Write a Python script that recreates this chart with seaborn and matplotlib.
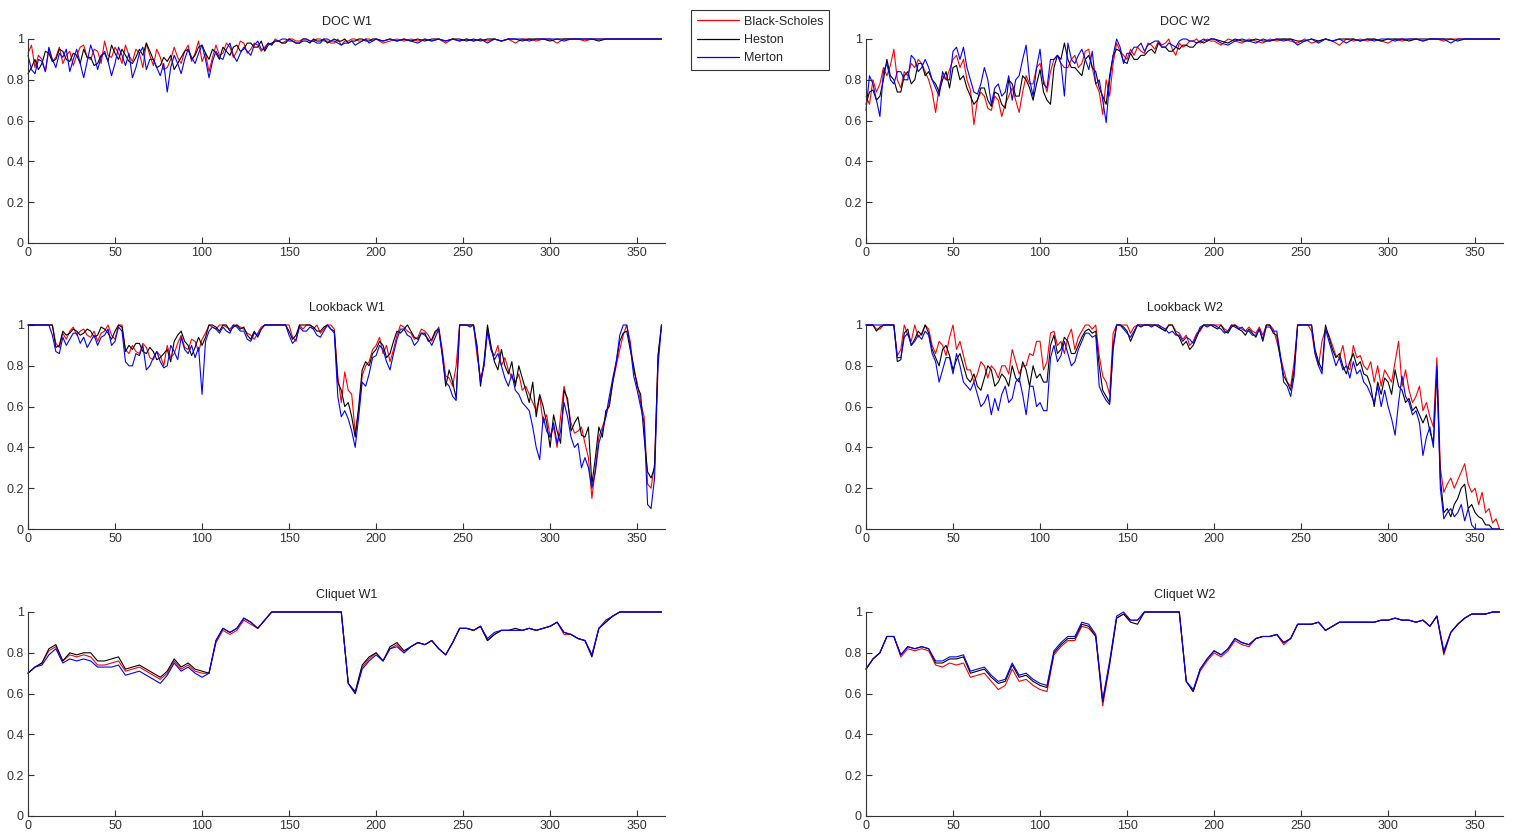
import numpy as np
import pandas as pd
import matplotlib
matplotlib.use("Agg")
import matplotlib.pyplot as plt
import seaborn as sns
from matplotlib.lines import Line2D
from matplotlib.ticker import FuncFormatter

# ---------------- data ----------------
days = list(range(0, 365, 4))                                   # 0 .. 364
doc_days = list(range(0, 200, 2)) + list(range(200, 365, 4))    # finer where noisy
lookback_days = list(range(0, 365, 2))                          # 0 .. 364

models = ["Black-Scholes", "Heston", "Merton"]
model_colors = ["#ff0000", "#000000", "#0000ff"]

doc_w1_bs = [
    0.93, 0.97, 0.86, 0.92, 0.90, 0.84, 0.95, 0.89, 0.91, 0.96,
    0.88, 0.92, 0.94, 0.87, 0.92, 0.96, 0.97, 0.91, 0.90, 0.95,
    0.94, 0.88, 0.99, 0.92, 0.91, 0.96, 0.93, 0.88, 0.97, 0.92,
    0.89, 0.95, 0.93, 0.86, 0.98, 0.92, 0.87, 0.95, 0.91, 0.85,
    0.86, 0.90, 0.96, 0.91, 0.88, 0.94, 0.97, 0.89, 0.93, 0.99,
    0.89, 0.93, 0.84, 0.91, 0.97, 0.92, 0.93, 0.98, 0.96, 0.91,
    0.94, 0.99, 0.98, 0.93, 0.95, 0.98, 0.97, 0.94, 0.96, 0.98,
    0.97, 1.00, 0.99, 0.98, 0.99, 1.00, 1.00, 0.99, 0.99, 1.00,
    1.00, 0.99, 0.99, 1.00, 1.00, 0.99, 0.99, 0.98, 0.98, 1.00,
    0.97, 0.99, 0.99, 1.00, 1.00, 0.99, 0.99, 1.00, 1.00, 0.99,
    1.00, 0.98, 0.99, 1.00, 0.99, 1.00, 0.99, 1.00, 0.99, 1.00,
    0.98, 1.00, 0.99, 1.00, 0.99, 1.00, 0.99, 1.00, 0.99, 1.00,
    0.98, 1.00, 1.00, 0.99, 1.00, 1.00, 0.98, 1.00, 1.00, 1.00,
    0.99, 1.00, 1.00, 1.00, 1.00, 1.00, 1.00, 1.00, 1.00, 1.00,
    1.00, 1.00]
doc_w1_heston = [
    0.83, 0.86, 0.90, 0.85, 0.88, 0.94, 0.93, 0.89, 0.90, 0.95,
    0.94, 0.90, 0.89, 0.93, 0.92, 0.88, 0.95, 0.91, 0.91, 0.87,
    0.88, 0.92, 0.93, 0.89, 0.97, 0.93, 0.90, 0.95, 0.92, 0.89,
    0.88, 0.91, 0.95, 0.92, 0.98, 0.94, 0.90, 0.86, 0.87, 0.91,
    0.89, 0.92, 0.85, 0.88, 0.91, 0.94, 0.95, 0.90, 0.92, 0.96,
    0.97, 0.93, 0.90, 0.95, 0.93, 0.90, 0.96, 0.94, 0.92, 0.96,
    0.97, 0.94, 0.95, 0.98, 0.98, 0.96, 0.96, 0.99, 0.94, 0.97,
    0.98, 0.99, 0.99, 0.98, 0.98, 1.00, 0.99, 0.98, 0.98, 0.99,
    0.99, 0.98, 1.00, 0.99, 0.99, 1.00, 0.98, 0.99, 1.00, 0.99,
    0.99, 1.00, 0.98, 0.99, 0.99, 1.00, 1.00, 0.99, 0.99, 1.00,
    1.00, 0.99, 1.00, 0.99, 1.00, 0.99, 1.00, 0.99, 1.00, 1.00,
    0.99, 1.00, 1.00, 0.99, 1.00, 0.99, 1.00, 1.00, 0.99, 1.00,
    1.00, 0.99, 1.00, 1.00, 1.00, 0.99, 1.00, 1.00, 1.00, 1.00,
    1.00, 1.00, 0.99, 1.00, 1.00, 1.00, 1.00, 1.00, 1.00, 1.00,
    1.00, 1.00]
doc_w1_merton = [
    0.92, 0.85, 0.83, 0.90, 0.89, 0.84, 0.96, 0.90, 0.86, 0.93,
    0.91, 0.95, 0.84, 0.90, 0.95, 0.88, 0.81, 0.89, 0.97, 0.92,
    0.85, 0.91, 0.94, 0.89, 0.82, 0.88, 0.96, 0.92, 0.87, 0.93,
    0.81, 0.86, 0.93, 0.96, 0.85, 0.90, 0.90, 0.86, 0.82, 0.88,
    0.74, 0.86, 0.92, 0.88, 0.83, 0.90, 0.95, 0.91, 0.88, 0.93,
    0.97, 0.90, 0.81, 0.89, 0.94, 0.91, 0.90, 0.95, 0.98, 0.92,
    0.89, 0.93, 0.96, 0.94, 0.92, 0.97, 0.99, 0.95, 0.95, 0.98,
    0.97, 0.99, 0.99, 1.00, 1.00, 0.99, 0.99, 0.98, 0.98, 1.00,
    1.00, 0.99, 0.99, 0.98, 0.98, 1.00, 1.00, 0.99, 0.99, 0.98,
    0.97, 0.98, 0.98, 0.99, 0.97, 0.98, 0.99, 1.00, 0.98, 0.99,
    1.00, 0.99, 1.00, 0.99, 1.00, 0.99, 0.98, 1.00, 0.99, 1.00,
    0.99, 1.00, 0.99, 1.00, 0.99, 1.00, 0.98, 1.00, 0.99, 1.00,
    1.00, 1.00, 0.99, 1.00, 1.00, 1.00, 1.00, 0.99, 1.00, 1.00,
    1.00, 1.00, 1.00, 1.00, 1.00, 1.00, 1.00, 1.00, 1.00, 1.00,
    1.00, 1.00]

doc_w2_bs = [
    0.72, 0.68, 0.80, 0.74, 0.78, 0.86, 0.82, 0.87, 0.95, 0.80,
    0.76, 0.84, 0.82, 0.88, 0.86, 0.90, 0.88, 0.84, 0.80, 0.74,
    0.64, 0.76, 0.82, 0.80, 0.85, 0.90, 0.92, 0.86, 0.90, 0.80,
    0.75, 0.58, 0.70, 0.74, 0.72, 0.66, 0.65, 0.72, 0.70, 0.62,
    0.68, 0.72, 0.76, 0.70, 0.64, 0.74, 0.82, 0.78, 0.78, 0.86,
    0.88, 0.80, 0.74, 0.84, 0.90, 0.92, 0.88, 0.86, 0.86, 0.90,
    0.92, 0.86, 0.88, 0.94, 0.95, 0.86, 0.78, 0.74, 0.63, 0.80,
    0.72, 0.88, 0.98, 0.94, 0.92, 0.90, 0.95, 0.92, 0.96, 0.94,
    0.93, 0.98, 0.97, 0.95, 0.99, 0.97, 0.98, 1.00, 0.95, 0.92,
    0.98, 0.96, 0.97, 0.99, 0.99, 1.00, 0.98, 0.99, 1.00, 0.99,
    0.99, 0.97, 1.00, 0.99, 0.98, 1.00, 0.99, 0.98, 1.00, 0.99,
    1.00, 0.99, 0.98, 1.00, 0.98, 0.99, 1.00, 0.99, 0.97, 1.00,
    0.99, 1.00, 0.99, 1.00, 0.99, 0.98, 1.00, 0.99, 1.00, 1.00,
    0.99, 1.00, 1.00, 0.99, 1.00, 1.00, 1.00, 1.00, 1.00, 1.00,
    1.00, 1.00]
doc_w2_heston = [
    0.68, 0.74, 0.75, 0.70, 0.72, 0.80, 0.90, 0.82, 0.80, 0.74,
    0.74, 0.82, 0.84, 0.78, 0.80, 0.88, 0.88, 0.82, 0.84, 0.80,
    0.78, 0.74, 0.80, 0.84, 0.76, 0.86, 0.87, 0.80, 0.82, 0.76,
    0.72, 0.68, 0.70, 0.76, 0.76, 0.70, 0.67, 0.74, 0.73, 0.68,
    0.66, 0.80, 0.78, 0.72, 0.72, 0.82, 0.80, 0.76, 0.70, 0.78,
    0.85, 0.74, 0.70, 0.68, 0.86, 0.92, 0.90, 0.98, 0.90, 0.86,
    0.86, 0.84, 0.82, 0.90, 0.92, 0.86, 0.84, 0.76, 0.72, 0.68,
    0.82, 0.92, 0.95, 0.94, 0.89, 0.88, 0.93, 0.90, 0.90, 0.92,
    0.92, 0.94, 0.95, 0.93, 0.98, 0.96, 0.96, 0.94, 0.94, 0.96,
    0.95, 0.97, 0.97, 0.96, 0.96, 0.98, 0.99, 0.98, 0.99, 1.00,
    1.00, 0.99, 0.98, 1.00, 0.99, 0.99, 1.00, 0.99, 0.99, 1.00,
    1.00, 1.00, 0.99, 0.99, 1.00, 0.99, 1.00, 0.99, 1.00, 1.00,
    1.00, 0.99, 1.00, 1.00, 0.99, 1.00, 1.00, 1.00, 0.99, 1.00,
    1.00, 1.00, 1.00, 1.00, 1.00, 0.99, 1.00, 1.00, 1.00, 1.00,
    1.00, 1.00]
doc_w2_merton = [
    0.65, 0.82, 0.78, 0.70, 0.62, 0.84, 0.88, 0.80, 0.78, 0.84,
    0.84, 0.80, 0.80, 0.92, 0.90, 0.84, 0.86, 0.90, 0.86, 0.80,
    0.76, 0.72, 0.84, 0.80, 0.80, 0.94, 0.96, 0.90, 0.96, 0.86,
    0.80, 0.74, 0.73, 0.78, 0.86, 0.80, 0.68, 0.76, 0.78, 0.72,
    0.74, 0.82, 0.70, 0.80, 0.82, 0.90, 0.97, 0.80, 0.72, 0.86,
    0.95, 0.78, 0.76, 0.90, 0.90, 0.92, 0.88, 0.72, 0.98, 0.90,
    0.88, 0.92, 0.95, 0.90, 0.85, 0.94, 0.78, 0.80, 0.70, 0.59,
    0.80, 0.92, 1.00, 0.96, 0.88, 0.93, 0.93, 0.96, 0.96, 0.98,
    0.94, 0.97, 0.98, 0.99, 0.99, 0.96, 0.96, 0.98, 0.97, 0.96,
    0.99, 1.00, 1.00, 0.99, 0.99, 0.98, 0.99, 1.00, 0.99, 1.00,
    1.00, 0.98, 0.97, 0.99, 1.00, 0.99, 0.98, 1.00, 0.99, 1.00,
    0.99, 1.00, 0.97, 0.99, 1.00, 0.98, 1.00, 0.99, 1.00, 0.98,
    1.00, 0.99, 1.00, 0.99, 1.00, 1.00, 0.99, 1.00, 1.00, 1.00,
    0.99, 1.00, 1.00, 1.00, 0.98, 1.00, 1.00, 1.00, 1.00, 1.00,
    1.00, 1.00]

lookback_w1_bs = [
    1.00, 1.00, 1.00, 1.00, 1.00, 1.00, 1.00, 1.00, 0.91, 0.89,
    0.96, 0.93, 0.97, 0.99, 0.95, 0.97, 0.98, 0.95, 0.94, 0.97,
    0.92, 0.96, 0.97, 1.00, 0.95, 0.93, 1.00, 1.00, 0.88, 0.86,
    0.90, 0.87, 0.86, 0.91, 0.89, 0.84, 0.83, 0.87, 0.85, 0.80,
    0.90, 0.84, 0.86, 0.91, 0.95, 0.89, 0.88, 0.93, 0.92, 0.87,
    0.93, 0.96, 1.00, 0.99, 0.98, 1.00, 1.00, 0.99, 0.98, 1.00,
    1.00, 0.99, 0.98, 0.96, 0.95, 0.93, 0.96, 0.99, 1.00, 1.00,
    1.00, 1.00, 1.00, 1.00, 1.00, 1.00, 0.94, 0.92, 1.00, 0.98,
    1.00, 1.00, 0.98, 1.00, 0.96, 0.98, 1.00, 1.00, 0.98, 0.75,
    0.62, 0.77, 0.68, 0.66, 0.47, 0.58, 0.75, 0.80, 0.82, 0.88,
    0.90, 0.94, 0.86, 0.90, 0.82, 0.88, 0.95, 1.00, 0.99, 0.97,
    0.96, 0.93, 0.94, 0.98, 0.97, 0.95, 0.92, 0.96, 0.99, 0.88,
    0.75, 0.74, 0.70, 0.80, 1.00, 1.00, 1.00, 1.00, 1.00, 0.85,
    0.74, 0.80, 0.98, 0.88, 0.85, 0.90, 0.80, 0.84, 0.78, 0.74,
    0.72, 0.76, 0.68, 0.70, 0.66, 0.62, 0.58, 0.65, 0.52, 0.56,
    0.45, 0.50, 0.40, 0.55, 0.70, 0.62, 0.52, 0.47, 0.48, 0.50,
    0.42, 0.35, 0.15, 0.30, 0.45, 0.50, 0.55, 0.62, 0.72, 0.80,
    0.88, 0.95, 1.00, 0.92, 0.78, 0.72, 0.62, 0.55, 0.22, 0.20,
    0.32, 0.85, 1.00]
lookback_w1_heston = [
    1.00, 1.00, 1.00, 1.00, 1.00, 1.00, 1.00, 1.00, 0.89, 0.90,
    0.97, 0.95, 0.96, 0.98, 0.97, 0.95, 0.96, 0.98, 0.97, 0.94,
    0.95, 0.99, 0.98, 0.96, 0.93, 0.97, 1.00, 0.99, 0.87, 0.90,
    0.88, 0.91, 0.91, 0.87, 0.86, 0.89, 0.87, 0.83, 0.84, 0.86,
    0.88, 0.82, 0.92, 0.95, 0.97, 0.92, 0.90, 0.85, 0.89, 0.94,
    0.90, 0.94, 1.00, 1.00, 0.99, 0.97, 1.00, 1.00, 0.97, 0.99,
    1.00, 0.98, 0.99, 0.95, 0.93, 0.97, 0.94, 0.98, 1.00, 1.00,
    1.00, 1.00, 1.00, 1.00, 1.00, 0.97, 0.93, 0.95, 1.00, 1.00,
    1.00, 1.00, 0.99, 0.97, 0.97, 0.99, 1.00, 0.98, 0.97, 0.72,
    0.68, 0.60, 0.62, 0.55, 0.45, 0.60, 0.78, 0.82, 0.80, 0.86,
    0.88, 0.92, 0.90, 0.84, 0.86, 0.92, 0.97, 0.96, 0.98, 1.00,
    0.97, 0.94, 0.93, 0.96, 0.96, 0.92, 0.93, 0.97, 0.98, 0.86,
    0.70, 0.78, 0.72, 0.64, 1.00, 1.00, 1.00, 1.00, 1.00, 0.90,
    0.70, 0.82, 1.00, 0.90, 0.82, 0.78, 0.88, 0.80, 0.76, 0.82,
    0.70, 0.80, 0.74, 0.68, 0.62, 0.72, 0.55, 0.66, 0.60, 0.52,
    0.40, 0.56, 0.48, 0.42, 0.68, 0.64, 0.48, 0.52, 0.55, 0.46,
    0.45, 0.50, 0.22, 0.35, 0.50, 0.45, 0.58, 0.60, 0.72, 0.82,
    0.92, 0.96, 0.97, 0.88, 0.80, 0.70, 0.66, 0.45, 0.28, 0.25,
    0.30, 0.85, 1.00]
lookback_w1_merton = [
    1.00, 1.00, 1.00, 1.00, 1.00, 1.00, 1.00, 0.95, 0.87, 0.86,
    0.94, 0.90, 0.93, 0.96, 0.96, 0.91, 0.94, 0.89, 0.92, 0.95,
    0.90, 0.94, 0.95, 0.98, 0.90, 0.92, 0.99, 0.97, 0.82, 0.80,
    0.80, 0.86, 0.85, 0.90, 0.78, 0.80, 0.84, 0.87, 0.82, 0.79,
    0.80, 0.90, 0.87, 0.83, 0.94, 0.88, 0.86, 0.90, 0.84, 0.89,
    0.66, 0.92, 0.97, 0.99, 0.98, 0.96, 0.99, 0.97, 0.96, 1.00,
    0.99, 0.97, 0.97, 0.93, 0.92, 0.96, 0.95, 0.98, 1.00, 1.00,
    1.00, 1.00, 1.00, 1.00, 1.00, 0.95, 0.91, 0.93, 0.99, 0.97,
    0.97, 0.99, 0.98, 0.95, 0.94, 0.97, 1.00, 0.98, 0.96, 0.65,
    0.55, 0.58, 0.54, 0.48, 0.40, 0.55, 0.72, 0.70, 0.76, 0.84,
    0.85, 0.90, 0.88, 0.82, 0.78, 0.86, 0.93, 0.98, 0.98, 0.95,
    0.94, 0.90, 0.92, 0.96, 0.95, 0.93, 0.90, 0.94, 0.98, 0.85,
    0.72, 0.70, 0.65, 0.63, 1.00, 1.00, 1.00, 0.99, 1.00, 0.88,
    0.72, 0.80, 0.97, 0.88, 0.83, 0.86, 0.80, 0.74, 0.70, 0.76,
    0.68, 0.66, 0.62, 0.60, 0.58, 0.50, 0.40, 0.34, 0.55, 0.48,
    0.45, 0.52, 0.42, 0.48, 0.62, 0.55, 0.45, 0.40, 0.42, 0.30,
    0.35, 0.30, 0.20, 0.28, 0.42, 0.48, 0.55, 0.65, 0.74, 0.82,
    0.95, 1.00, 1.00, 0.90, 0.75, 0.68, 0.60, 0.52, 0.12, 0.10,
    0.25, 0.80, 1.00]

lookback_w2_bs = [
    1.00, 1.00, 1.00, 0.98, 0.98, 1.00, 1.00, 1.00, 1.00, 0.85,
    0.88, 1.00, 0.95, 0.92, 1.00, 0.94, 0.96, 1.00, 0.98, 0.90,
    0.86, 0.92, 0.90, 0.85, 0.94, 1.00, 0.88, 0.92, 0.85, 0.78,
    0.78, 0.72, 0.76, 0.82, 0.80, 0.74, 0.80, 0.78, 0.74, 0.80,
    0.80, 0.76, 0.88, 0.82, 0.76, 0.80, 0.80, 0.86, 0.85, 0.92,
    0.92, 0.78, 0.82, 0.96, 0.97, 0.90, 0.92, 0.86, 0.94, 0.98,
    0.88, 0.94, 0.97, 1.00, 1.00, 0.98, 1.00, 0.85, 0.75, 0.72,
    0.66, 0.96, 1.00, 1.00, 1.00, 1.00, 0.96, 0.99, 1.00, 1.00,
    1.00, 1.00, 1.00, 1.00, 1.00, 0.98, 0.98, 1.00, 1.00, 0.97,
    0.96, 0.93, 0.95, 0.90, 0.92, 0.96, 0.97, 1.00, 1.00, 1.00,
    1.00, 1.00, 1.00, 0.98, 0.97, 1.00, 1.00, 0.99, 0.98, 0.97,
    0.99, 0.97, 0.96, 0.99, 0.95, 1.00, 1.00, 0.98, 0.92, 0.85,
    0.78, 0.72, 0.70, 0.82, 1.00, 1.00, 1.00, 1.00, 0.97, 0.86,
    0.80, 0.92, 0.98, 0.95, 0.90, 0.85, 0.84, 0.90, 0.80, 0.78,
    0.90, 0.84, 0.85, 0.80, 0.78, 0.82, 0.72, 0.80, 0.70, 0.78,
    0.75, 0.72, 0.82, 0.92, 0.70, 0.78, 0.68, 0.62, 0.65, 0.70,
    0.58, 0.62, 0.55, 0.50, 0.84, 0.30, 0.18, 0.22, 0.25, 0.20,
    0.24, 0.28, 0.32, 0.22, 0.18, 0.20, 0.12, 0.18, 0.08, 0.10,
    0.03, 0.05, 0.00]
lookback_w2_heston = [
    1.00, 1.00, 1.00, 0.97, 0.99, 1.00, 1.00, 1.00, 1.00, 0.82,
    0.83, 0.96, 0.98, 0.90, 0.93, 0.97, 0.95, 1.00, 0.96, 0.88,
    0.84, 0.80, 0.88, 0.90, 0.85, 0.78, 0.83, 0.86, 0.80, 0.74,
    0.72, 0.76, 0.70, 0.68, 0.74, 0.80, 0.78, 0.70, 0.72, 0.76,
    0.74, 0.70, 0.80, 0.74, 0.72, 0.82, 0.78, 0.70, 0.80, 0.74,
    0.76, 0.72, 0.72, 0.90, 0.95, 0.86, 0.88, 0.94, 0.92, 0.86,
    0.86, 0.90, 0.94, 0.97, 0.98, 0.96, 0.97, 0.80, 0.68, 0.65,
    0.62, 0.90, 1.00, 1.00, 0.99, 0.97, 0.92, 0.96, 1.00, 0.99,
    1.00, 1.00, 1.00, 1.00, 0.99, 0.98, 0.97, 1.00, 1.00, 0.96,
    0.94, 0.90, 0.92, 0.88, 0.90, 0.94, 0.98, 1.00, 1.00, 1.00,
    0.99, 0.98, 1.00, 0.97, 0.96, 0.99, 1.00, 0.98, 0.97, 0.95,
    0.98, 0.96, 0.94, 0.98, 0.92, 1.00, 1.00, 0.96, 0.95, 0.84,
    0.75, 0.72, 0.68, 0.78, 1.00, 1.00, 1.00, 1.00, 1.00, 0.88,
    0.82, 0.78, 1.00, 0.94, 0.88, 0.84, 0.86, 0.80, 0.76, 0.82,
    0.86, 0.80, 0.82, 0.76, 0.75, 0.70, 0.60, 0.72, 0.66, 0.74,
    0.72, 0.66, 0.78, 0.70, 0.68, 0.62, 0.64, 0.58, 0.60, 0.56,
    0.52, 0.56, 0.48, 0.42, 0.78, 0.25, 0.08, 0.10, 0.06, 0.12,
    0.15, 0.20, 0.22, 0.10, 0.12, 0.08, 0.06, 0.05, 0.02, 0.02,
    0.00, 0.00, 0.00]
lookback_w2_merton = [
    1.00, 1.00, 1.00, 1.00, 1.00, 1.00, 1.00, 1.00, 1.00, 0.84,
    0.84, 0.94, 0.96, 0.90, 0.92, 0.95, 0.93, 0.97, 0.95, 0.86,
    0.82, 0.72, 0.78, 0.84, 0.84, 0.76, 0.86, 0.80, 0.72, 0.70,
    0.68, 0.72, 0.66, 0.60, 0.62, 0.66, 0.56, 0.64, 0.58, 0.66,
    0.70, 0.62, 0.64, 0.72, 0.74, 0.66, 0.56, 0.70, 0.70, 0.60,
    0.62, 0.58, 0.58, 0.84, 0.90, 0.82, 0.85, 0.92, 0.86, 0.80,
    0.82, 0.88, 0.92, 0.96, 0.96, 0.94, 0.95, 0.70, 0.66, 0.63,
    0.61, 0.88, 1.00, 1.00, 0.98, 0.96, 0.94, 0.97, 1.00, 1.00,
    1.00, 1.00, 0.99, 1.00, 1.00, 0.99, 0.98, 0.96, 0.97, 0.95,
    0.95, 0.92, 0.94, 0.93, 0.91, 0.95, 0.99, 1.00, 0.99, 1.00,
    1.00, 0.99, 0.98, 0.96, 0.97, 1.00, 0.99, 0.98, 0.99, 0.97,
    0.97, 0.95, 0.95, 0.98, 0.93, 0.99, 0.99, 0.97, 0.97, 0.86,
    0.72, 0.70, 0.65, 0.75, 1.00, 1.00, 1.00, 1.00, 1.00, 0.86,
    0.80, 0.76, 0.98, 0.92, 0.86, 0.80, 0.84, 0.78, 0.80, 0.74,
    0.82, 0.76, 0.78, 0.72, 0.70, 0.66, 0.62, 0.70, 0.60, 0.68,
    0.60, 0.54, 0.46, 0.62, 0.75, 0.65, 0.62, 0.56, 0.58, 0.52,
    0.36, 0.45, 0.50, 0.40, 0.80, 0.20, 0.05, 0.08, 0.10, 0.06,
    0.08, 0.12, 0.04, 0.10, 0.02, 0.00, 0.00, 0.00, 0.00, 0.00,
    0.00, 0.00, 0.00]

cliquet_w1_bs = [
    0.70, 0.73, 0.75, 0.81, 0.83, 0.76, 0.79, 0.78, 0.79, 0.78,
    0.74, 0.74, 0.75, 0.76, 0.71, 0.72, 0.73, 0.71, 0.69, 0.67,
    0.70, 0.76, 0.72, 0.74, 0.71, 0.70, 0.70, 0.85, 0.91, 0.89,
    0.91, 0.96, 0.94, 0.92, 0.96, 1.00, 1.00, 1.00, 1.00, 1.00,
    1.00, 1.00, 1.00, 1.00, 1.00, 1.00, 0.65, 0.60, 0.73, 0.77,
    0.80, 0.76, 0.82, 0.84, 0.80, 0.83, 0.85, 0.84, 0.86, 0.82,
    0.79, 0.85, 0.92, 0.92, 0.91, 0.93, 0.86, 0.89, 0.91, 0.91,
    0.91, 0.91, 0.92, 0.91, 0.92, 0.93, 0.95, 0.89, 0.89, 0.87,
    0.86, 0.79, 0.92, 0.95, 0.98, 1.00, 1.00, 1.00, 1.00, 1.00,
    1.00, 1.00]
cliquet_w1_heston = [
    0.70, 0.73, 0.75, 0.82, 0.84, 0.76, 0.80, 0.79, 0.80, 0.80,
    0.76, 0.76, 0.77, 0.78, 0.72, 0.73, 0.74, 0.72, 0.70, 0.68,
    0.71, 0.77, 0.73, 0.75, 0.72, 0.71, 0.70, 0.86, 0.92, 0.90,
    0.92, 0.97, 0.95, 0.92, 0.96, 1.00, 1.00, 1.00, 1.00, 1.00,
    1.00, 1.00, 1.00, 1.00, 1.00, 1.00, 0.65, 0.61, 0.74, 0.78,
    0.80, 0.76, 0.83, 0.85, 0.81, 0.83, 0.85, 0.84, 0.86, 0.82,
    0.79, 0.85, 0.92, 0.92, 0.91, 0.93, 0.86, 0.89, 0.91, 0.91,
    0.92, 0.91, 0.92, 0.91, 0.92, 0.93, 0.95, 0.90, 0.89, 0.87,
    0.86, 0.78, 0.92, 0.95, 0.98, 1.00, 1.00, 1.00, 1.00, 1.00,
    1.00, 1.00]
cliquet_w1_merton = [
    0.70, 0.73, 0.74, 0.79, 0.82, 0.75, 0.77, 0.76, 0.77, 0.76,
    0.73, 0.73, 0.73, 0.74, 0.69, 0.70, 0.71, 0.69, 0.67, 0.65,
    0.69, 0.75, 0.71, 0.73, 0.70, 0.68, 0.70, 0.86, 0.92, 0.90,
    0.92, 0.97, 0.95, 0.92, 0.96, 1.00, 1.00, 1.00, 1.00, 1.00,
    1.00, 1.00, 1.00, 1.00, 1.00, 1.00, 0.65, 0.60, 0.72, 0.76,
    0.79, 0.76, 0.82, 0.83, 0.80, 0.83, 0.85, 0.84, 0.86, 0.82,
    0.79, 0.85, 0.92, 0.92, 0.91, 0.93, 0.87, 0.90, 0.91, 0.91,
    0.91, 0.91, 0.92, 0.91, 0.92, 0.93, 0.95, 0.90, 0.89, 0.87,
    0.86, 0.79, 0.92, 0.96, 0.98, 1.00, 1.00, 1.00, 1.00, 1.00,
    1.00, 1.00]

cliquet_w2_bs = [
    0.72, 0.77, 0.80, 0.88, 0.88, 0.78, 0.82, 0.81, 0.82, 0.81,
    0.74, 0.73, 0.75, 0.74, 0.75, 0.68, 0.69, 0.70, 0.66, 0.62,
    0.64, 0.72, 0.66, 0.67, 0.64, 0.62, 0.61, 0.79, 0.83, 0.86,
    0.86, 0.93, 0.92, 0.88, 0.54, 0.74, 0.97, 0.99, 0.96, 0.96,
    1.00, 1.00, 1.00, 1.00, 1.00, 1.00, 0.66, 0.61, 0.71, 0.76,
    0.80, 0.78, 0.81, 0.86, 0.84, 0.83, 0.87, 0.88, 0.88, 0.89,
    0.84, 0.87, 0.94, 0.94, 0.94, 0.95, 0.91, 0.93, 0.95, 0.95,
    0.95, 0.95, 0.95, 0.95, 0.96, 0.96, 0.97, 0.96, 0.96, 0.95,
    0.96, 0.93, 0.98, 0.79, 0.90, 0.94, 0.97, 0.99, 0.99, 0.99,
    1.00, 1.00]
cliquet_w2_heston = [
    0.72, 0.77, 0.80, 0.88, 0.88, 0.79, 0.83, 0.82, 0.83, 0.82,
    0.75, 0.75, 0.77, 0.77, 0.78, 0.70, 0.71, 0.72, 0.68, 0.65,
    0.66, 0.74, 0.68, 0.69, 0.66, 0.64, 0.63, 0.80, 0.84, 0.87,
    0.87, 0.94, 0.93, 0.88, 0.56, 0.75, 0.97, 0.99, 0.95, 0.94,
    1.00, 1.00, 1.00, 1.00, 1.00, 1.00, 0.66, 0.61, 0.72, 0.77,
    0.81, 0.79, 0.82, 0.87, 0.85, 0.84, 0.87, 0.88, 0.88, 0.89,
    0.85, 0.87, 0.94, 0.94, 0.94, 0.95, 0.91, 0.93, 0.95, 0.95,
    0.95, 0.95, 0.95, 0.95, 0.96, 0.96, 0.97, 0.96, 0.96, 0.95,
    0.96, 0.93, 0.98, 0.80, 0.90, 0.94, 0.97, 0.99, 0.99, 0.99,
    1.00, 1.00]
cliquet_w2_merton = [
    0.72, 0.77, 0.80, 0.88, 0.88, 0.79, 0.83, 0.82, 0.83, 0.82,
    0.76, 0.76, 0.78, 0.78, 0.79, 0.71, 0.72, 0.73, 0.69, 0.66,
    0.67, 0.75, 0.69, 0.70, 0.67, 0.65, 0.64, 0.81, 0.85, 0.88,
    0.88, 0.95, 0.94, 0.89, 0.57, 0.76, 0.98, 1.00, 0.96, 0.96,
    1.00, 1.00, 1.00, 1.00, 1.00, 1.00, 0.66, 0.62, 0.72, 0.77,
    0.81, 0.79, 0.82, 0.87, 0.85, 0.84, 0.87, 0.88, 0.88, 0.89,
    0.85, 0.87, 0.94, 0.94, 0.94, 0.95, 0.91, 0.93, 0.95, 0.95,
    0.95, 0.95, 0.95, 0.95, 0.96, 0.96, 0.97, 0.96, 0.96, 0.95,
    0.96, 0.93, 0.98, 0.81, 0.90, 0.94, 0.97, 0.99, 0.99, 0.99,
    1.00, 1.00]

panel_titles = ["DOC W1", "DOC W2", "Lookback W1", "Lookback W2", "Cliquet W1", "Cliquet W2"]
panel_days = [doc_days, doc_days, lookback_days, lookback_days, days, days]
panel_series = [
    (doc_w1_bs, doc_w1_heston, doc_w1_merton),
    (doc_w2_bs, doc_w2_heston, doc_w2_merton),
    (lookback_w1_bs, lookback_w1_heston, lookback_w1_merton),
    (lookback_w2_bs, lookback_w2_heston, lookback_w2_merton),
    (cliquet_w1_bs, cliquet_w1_heston, cliquet_w1_merton),
    (cliquet_w2_bs, cliquet_w2_heston, cliquet_w2_merton),
]
x_ticks = [0, 50, 100, 150, 200, 250, 300, 350]
y_ticks = [0, 0.2, 0.4, 0.6, 0.8, 1]

# ---------------- style ----------------
sns.set_theme(style="white")
plt.rcParams["font.family"] = ["Liberation Sans", "DejaVu Sans"]
plt.rcParams["axes.linewidth"] = 0.8

W, H = 1517, 835
fig = plt.figure(figsize=(W / 100, H / 100), dpi=100)
fig.patch.set_facecolor("white")

col_left = [28, 866]
row_top = [39, 325, 612]
ax_w, ax_h = 637, 204

palette = dict(zip(models, model_colors))

for i, (title, xd, series) in enumerate(zip(panel_titles, panel_days, panel_series)):
    r, c = divmod(i, 2)
    left = col_left[c] / W
    bottom = 1 - (row_top[r] + ax_h) / H
    ax = fig.add_axes([left, bottom, ax_w / W, ax_h / H])
    frames = []
    for m, vals in zip(models, series):
        n = min(len(xd), len(vals))
        frames.append(pd.DataFrame({"day": xd[:n], "value": vals[:n], "model": m}))
    df = pd.concat(frames, ignore_index=True)
    sns.lineplot(data=df, x="day", y="value", hue="model", hue_order=models,
                 palette=palette, ax=ax, lw=0.8, legend=False, sort=True,
                 estimator=None, clip_on=False)
    ax.set_xlim(0, 366)
    ax.set_ylim(0, 1)
    ax.set_xticks(x_ticks)
    ax.set_yticks(y_ticks)
    ax.yaxis.set_major_formatter(FuncFormatter(lambda v, p: f"{v:g}"))
    ax.set_xlabel("")
    ax.set_ylabel("")
    ax.set_title(title, fontsize=9, pad=10, color="#222222")
    for s in ["top", "right"]:
        ax.spines[s].set_visible(False)
    for s in ["left", "bottom"]:
        ax.spines[s].set_color("#333333")
        ax.spines[s].set_linewidth(0.8)
    ax.tick_params(axis="both", which="major", direction="in", length=4, width=0.8,
                   labelsize=9, colors="#333333", pad=3)
    ax.tick_params(axis="x", bottom=True)
    ax.tick_params(axis="y", left=True)
    ax.set_facecolor("white")

handles = [Line2D([0], [0], color=col, lw=0.9) for col in model_colors]
leg = fig.legend(handles, models, loc="upper left",
                 bbox_to_anchor=(691 / W, 1 - 10 / H), frameon=True, fancybox=False,
                 edgecolor="black", fontsize=9, handlelength=3.4, handletextpad=0.4,
                 borderpad=0.45, labelspacing=0.5, borderaxespad=0.0)
leg.get_frame().set_linewidth(0.8)

fig.savefig("out.png", dpi=100, facecolor="white")
